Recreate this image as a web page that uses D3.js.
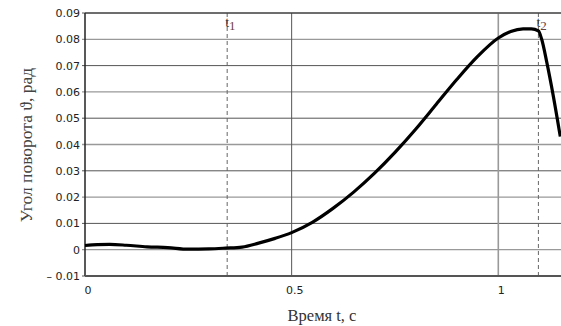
<!DOCTYPE html>
<html><head><meta charset="utf-8">
<script src="https://cdn.jsdelivr.net/npm/d3@7"></script>
<style>body{margin:0;background:#fff}svg{display:block}</style>
</head><body>
<script>
const timeValues = [0, 0.03, 0.06, 0.1, 0.15, 0.2, 0.25, 0.3, 0.34, 0.38, 0.42, 0.46, 0.5, 0.55, 0.6, 0.65, 0.7, 0.75, 0.8, 0.85, 0.9, 0.95, 1.0, 1.03, 1.06, 1.08, 1.097, 1.105, 1.117, 1.133, 1.15];
const angleValues = [0.0016, 0.0019, 0.0020, 0.0017, 0.0011, 0.0008, 0.0002, 0.0003, 0.0006, 0.0010, 0.0025, 0.0043, 0.0065, 0.0104, 0.0157, 0.0219, 0.0290, 0.0370, 0.0458, 0.0553, 0.0648, 0.0735, 0.0805, 0.0830, 0.0840, 0.0840, 0.0832, 0.0800, 0.0715, 0.0585, 0.0430];
const yTicks = [-0.01, 0, 0.01, 0.02, 0.03, 0.04, 0.05, 0.06, 0.07, 0.08, 0.09];
const yTickLabels = ["\u2013 0.01", "0", "0.01", "0.02", "0.03", "0.04", "0.05", "0.06", "0.07", "0.08", "0.09"];
const xTicks = [0, 0.5, 1];
const xTickLabels = ["0", "0.5", "1"];
const markers = [{t: 0.344, label: "t", sub: "1"}, {t: 1.097, label: "t", sub: "2"}];
const xTitle = "Время t, с";
const yTitle = "Угол поворота \u03D1, рад";

const W = 561, H = 326;
const pL = 85, pR = 561, pT = 13, pB = 276;
const svg = d3.select("body").append("svg").attr("width", W).attr("height", H);
const x = d3.scaleLinear().domain([0, 1.1517]).range([pL, pR]);
const y = d3.scaleLinear().domain([-0.01, 0.09]).range([pB, pT]);

// horizontal grid
svg.append("g").selectAll("line").data(yTicks).join("line")
  .attr("x1", pL - 3).attr("x2", pR)
  .attr("y1", d => y(d)).attr("y2", d => y(d))
  .attr("stroke", (d, i) => (i % 2 === 0 ? "#555" : "#999"))
  .attr("stroke-width", (d, i) => (i % 2 === 0 ? 1 : 1.3));

// vertical grid
svg.append("g").selectAll("line").data(xTicks.slice(1)).join("line")
  .attr("x1", d => x(d)).attr("x2", d => x(d))
  .attr("y1", pT).attr("y2", pB)
  .attr("stroke", (d, i) => (i === 0 ? "#555" : "#999"))
  .attr("stroke-width", (d, i) => (i === 0 ? 1 : 1.6));

// markers
const mg = svg.append("g");
mg.selectAll("line").data(markers).join("line")
  .attr("x1", d => x(d.t)).attr("x2", d => x(d.t))
  .attr("y1", pT).attr("y2", pB)
  .attr("stroke", "#666").attr("stroke-width", 1).attr("stroke-dasharray", "4,3");
const mt = mg.selectAll("text").data(markers).join("text")
  .attr("x", d => x(d.t) - 2).attr("y", pT + 14)
  .attr("font-family", "Liberation Serif, serif").attr("font-size", 14).attr("fill", "#333");
mt.append("tspan").text(d => d.label);
mt.append("tspan").attr("dy", 3).attr("font-size", 13).attr("fill", "#6a3f3f").text(d => d.sub);

// frame
svg.append("line").attr("x1", pL).attr("x2", pL).attr("y1", pT).attr("y2", pB).attr("stroke", "#222").attr("stroke-width", 1.5);
svg.append("line").attr("x1", pL).attr("x2", pR).attr("y1", pT).attr("y2", pT).attr("stroke", "#333").attr("stroke-width", 1.2);
svg.append("line").attr("x1", pL).attr("x2", pR).attr("y1", pB).attr("y2", pB).attr("stroke", "#555").attr("stroke-width", 2);

// curve
const pts = timeValues.map((t, i) => [t, angleValues[i]]);
svg.append("path").datum(pts)
  .attr("d", d3.line().x(d => x(d[0])).y(d => y(d[1])).curve(d3.curveMonotoneX))
  .attr("fill", "none").attr("stroke", "#000").attr("stroke-width", 3.2).attr("stroke-linejoin", "round");

// y tick labels
svg.append("g").selectAll("text").data(yTicks).join("text")
  .attr("x", pL - 5).attr("y", d => y(d) + 4)
  .attr("text-anchor", "end")
  .attr("font-family", "DejaVu Sans, sans-serif").attr("font-size", 11).attr("fill", "#222")
  .text((d, i) => yTickLabels[i]);

// x tick labels
svg.append("g").selectAll("text").data(xTicks).join("text")
  .attr("x", d => x(d) + 3).attr("y", pB + 18)
  .attr("text-anchor", "middle")
  .attr("font-family", "DejaVu Sans, sans-serif").attr("font-size", 11).attr("fill", "#222")
  .text((d, i) => xTickLabels[i]);

// titles
svg.append("text").attr("x", 322).attr("y", 321).attr("text-anchor", "middle")
  .attr("font-family", "Liberation Serif, serif").attr("font-size", 16.5).attr("fill", "#333").text(xTitle);
svg.append("text").attr("transform", "translate(32,145) rotate(-90)").attr("text-anchor", "middle")
  .attr("font-family", "Liberation Serif, serif").attr("font-size", 17.5).attr("fill", "#444").text(yTitle);
</script>
</body></html>
